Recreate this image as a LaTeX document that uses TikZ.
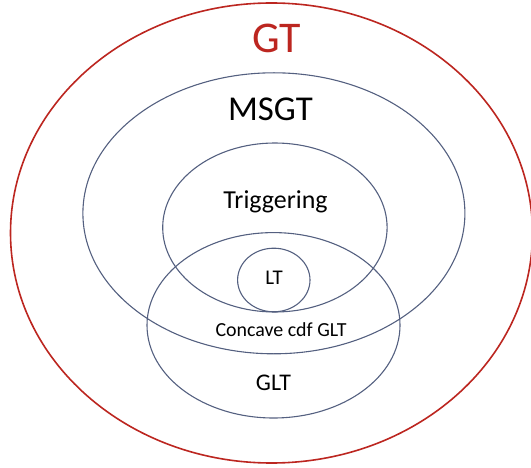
\documentclass[tikz,border=0pt]{standalone}
\usepackage{fontspec}
\setmainfont{Carlito}
\definecolor{gtred}{RGB}{188,38,32}
\definecolor{setgray}{RGB}{84,96,128}
\begin{document}
\begin{tikzpicture}[x=1bp, y=-1bp,
  outerset/.style={draw=gtred, line width=1.6bp},
  innerset/.style={draw=setgray, line width=1.1bp},
  setlabel/.style={inner sep=0pt, anchor=base}]
\useasboundingbox (0,0) rectangle (531,468);
\draw[outerset] (271.5,233) ellipse [x radius=261, y radius=230];
\draw[innerset] (273.9,213.3) ellipse [x radius=191, y radius=140.5];
\draw[innerset] (274.9,227.5) ellipse [x radius=112.2, y radius=84.5];
\draw[innerset] (273.5,325.3) ellipse [x radius=126.5, y radius=92.7];
\draw[innerset] (273.8,280) ellipse [x radius=36.2, y radius=31.8];
\node[setlabel, text=gtred, font=\fontsize{44}{44}\selectfont] (gt) at (276.5,53) {GT};
\node[setlabel, font=\fontsize{35}{35}\selectfont] (msgt) at (270.5,121) {MSGT};
\node[setlabel, font=\fontsize{26}{26}\selectfont] (trig) at (275.5,208.5) {Triggering};
\node[setlabel, font=\fontsize{21}{21}\selectfont] (lt) at (274,284.3) {LT};
\node[setlabel, font=\fontsize{20}{20}\selectfont] (ccglt) at (281,336) {Concave cdf GLT};
\node[setlabel, font=\fontsize{24}{24}\selectfont] (glt) at (273.5,390) {GLT};
\end{tikzpicture}
\end{document}
